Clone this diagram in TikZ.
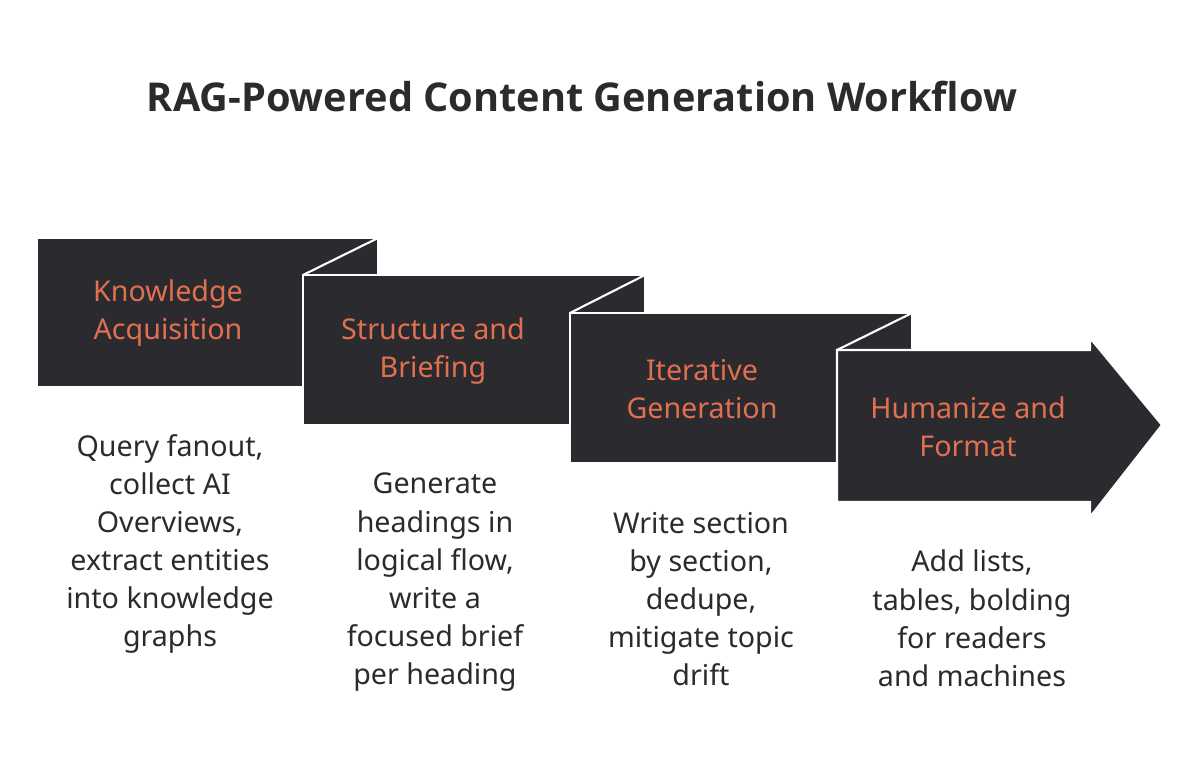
\documentclass[tikz,border=0pt]{standalone}
\usepackage{fontspec}
\setmainfont{Noto Sans}
\newfontfamily\titlefont{Open Sans}
\definecolor{panel}{HTML}{2B2B2F}
\definecolor{accent}{HTML}{E0704F}
\definecolor{ink}{HTML}{2B2B2B}
\tikzset{
  panel/.style={fill=panel, draw=white, line width=1.2pt, line join=miter},
  fold/.style={draw=white, line width=1.2pt},
  stage/.style={text=accent, font=\fontsize{16.3}{21.5}\selectfont, align=center},
  note/.style={text=ink, font=\fontsize{16.3}{21.7}\selectfont, align=center}
}
\begin{document}
\begin{tikzpicture}[x=0.02cm, y=-0.02cm]
		\useasboundingbox (0,0) rectangle (1200,769);
		% panels
		\draw[panel] (37,238) -- (378,238) -- (378,275) -- (303,275) -- (303,387) -- (37,387) -- cycle;
		\draw[fold] (303,275) -- (378,238);
		\draw[panel] (303,275) -- (645,275) -- (645,313) -- (570,313) -- (570,425) -- (303,425) -- cycle;
		\draw[fold] (570,313) -- (645,275);
		\draw[panel] (570,313) -- (912,313) -- (912,350) -- (837,350) -- (837,463) -- (570,463) -- cycle;
		\draw[fold] (837,350) -- (912,313);
		\draw[panel] (837,350) -- (1090,350) -- (1090,338) -- (1162,425) -- (1090,517) -- (1090,502) -- (837,502) -- cycle;
		% titles
		\node[font=\titlefont\bfseries\fontsize{22.6}{27}\selectfont, text=ink] (title) at (582,96) {RAG-Powered Content Generation Workflow};
		\node[stage] (s1) at (168,313) {Knowledge\\Acquisition};
		\node[stage] (s2) at (433,351) {Structure and\\Briefing};
		\node[stage] (s3) at (702,389) {Iterative\\Generation};
		\node[stage] (s4) at (968,427) {Humanize and\\Format};
		% descriptions
		\node[note, anchor=north] (d1) at (170,428) {Query fanout,\\collect AI\\Overviews,\\extract entities\\into knowledge\\graphs};
		\node[note, anchor=north] (d2) at (435,467) {Generate\\headings in\\logical flow,\\write a\\focused brief\\per heading};
		\node[note, anchor=north] (d3) at (701,506) {Write section\\by section,\\dedupe,\\mitigate topic\\drift};
		\node[note, anchor=north] (d4) at (972,544) {Add lists,\\tables, bolding\\for readers\\and machines};
\end{tikzpicture}
\end{document}
